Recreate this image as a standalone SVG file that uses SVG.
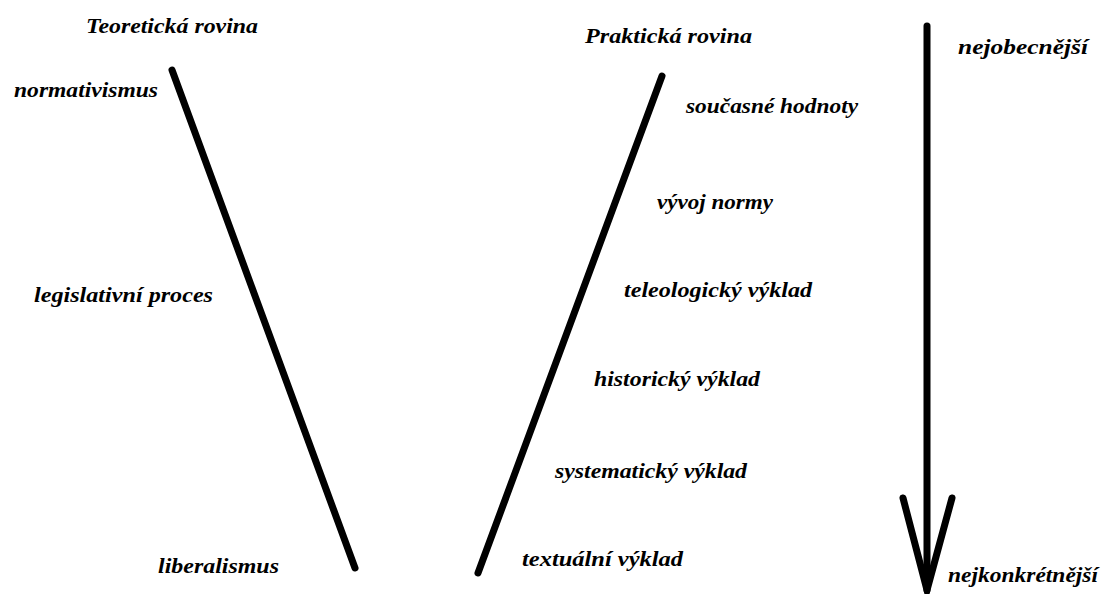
<svg xmlns="http://www.w3.org/2000/svg" width="1103" height="594" viewBox="0 0 1103 594">
<style>
text{font-family:"Liberation Serif","DejaVu Serif",serif;font-weight:bold;font-style:italic;font-size:21px;fill:#000}
.ln{stroke:#000;stroke-width:7;stroke-linecap:round;fill:none}
</style>
<rect width="1103" height="594" fill="#fff"/>
<g id="connectors">
<line class="ln" x1="172" y1="70" x2="355" y2="568"/>
<line class="ln" x1="662" y1="76" x2="478" y2="573"/>
<line class="ln" x1="927" y1="26" x2="927" y2="590"/>
<polyline class="ln" points="903,498 927,590 952,498"/>
</g>
<g id="n-teoreticka"><text x="86" y="33" textLength="172" lengthAdjust="spacingAndGlyphs">Teoretická rovina</text></g>
<g id="n-normativismus"><text x="14" y="97" textLength="144" lengthAdjust="spacingAndGlyphs">normativismus</text></g>
<g id="n-legislativni"><text x="34" y="302" textLength="179" lengthAdjust="spacingAndGlyphs">legislativní proces</text></g>
<g id="n-liberalismus"><text x="158" y="573" textLength="121" lengthAdjust="spacingAndGlyphs">liberalismus</text></g>
<g id="n-prakticka"><text x="585" y="43" textLength="167" lengthAdjust="spacingAndGlyphs">Praktická rovina</text></g>
<g id="n-soucasne"><text x="686" y="113" textLength="172" lengthAdjust="spacingAndGlyphs">současné hodnoty</text></g>
<g id="n-vyvoj"><text x="657" y="209" textLength="116" lengthAdjust="spacingAndGlyphs">vývoj normy</text></g>
<g id="n-teleologicky"><text x="624" y="297" textLength="188" lengthAdjust="spacingAndGlyphs">teleologický výklad</text></g>
<g id="n-historicky"><text x="594" y="386" textLength="166" lengthAdjust="spacingAndGlyphs">historický výklad</text></g>
<g id="n-systematicky"><text x="555" y="478" textLength="192" lengthAdjust="spacingAndGlyphs">systematický výklad</text></g>
<g id="n-textualni"><text x="522" y="566" textLength="161" lengthAdjust="spacingAndGlyphs">textuální výklad</text></g>
<g id="n-nejobecnejsi"><text x="958" y="54" textLength="130" lengthAdjust="spacingAndGlyphs">nejobecnější</text></g>
<g id="n-nejkonkretnejsi"><text x="948" y="582" textLength="150" lengthAdjust="spacingAndGlyphs">nejkonkrétnější</text></g>
</svg>
